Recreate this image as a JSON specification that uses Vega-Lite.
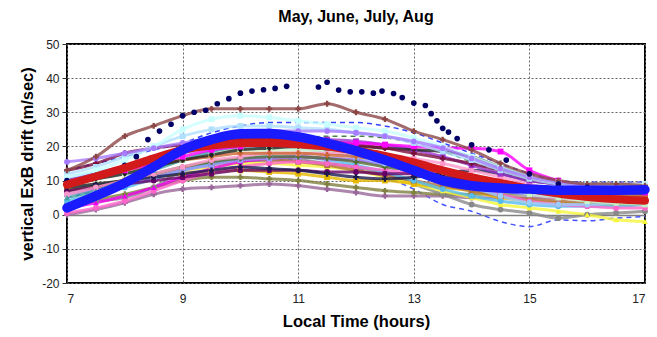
{
"$schema":"https://vega.github.io/schema/vega-lite/v6.json",
"width":578,"height":239,
"autosize":{"type":"none"},
"padding":{"left":67,"top":44,"right":12,"bottom":54},
"background":"white",
"title":{"text":"May, June, July, Aug","font":"Liberation Sans","fontSize":16,"fontWeight":"bold","color":"#000","anchor":"middle","offset":13},
"config":{"view":{"stroke":"#000","strokeWidth":2},
"axis":{"labelFont":"Liberation Sans","titleFont":"Liberation Sans","labelFontSize":12,"labelColor":"#222","titleFontSize":16.5,"titleFontWeight":"bold","titleColor":"#000","gridColor":"#666","gridDash":[2,2],"gridWidth":1,"gridOpacity":1,"domain":false,"labelOverlap":false}},
"encoding":{
"x":{"field":"t","type":"quantitative","scale":{"domain":[7,17],"nice":false,"zero":false},"axis":{"values":[7,9,11,13,15,17],"format":"d","ticks":false,"labelPadding":10,"title":"Local Time (hours)","titlePadding":9}},
"y":{"field":"v","type":"quantitative","scale":{"domain":[-20,50],"nice":false,"zero":false},"axis":{"values":[-20,-10,0,10,20,30,40,50],"tickCount":8,"labelExpr":"datum.value < 0 ? '-' + abs(datum.value) : '' + datum.value","tickSize":5,"tickColor":"#333","labelPadding":3,"labelOverlap":false,"title":"vertical ExB drift (m/sec)","titlePadding":6,
"gridDash":{"condition":{"test":"datum.value === 0","value":[]},"value":[2,2]},
"gridColor":{"condition":{"test":"datum.value === 0","value":"#808080"},"value":"#666"},
"gridWidth":{"condition":{"test":"datum.value === 0","value":1.5},"value":1}}}},
"datasets":{
"fit":[
{"s":"R","t":7,"v":8.8},{"s":"R","t":7.5,"v":11.2},{"s":"R","t":8,"v":13.7},{"s":"R","t":8.5,"v":16.5},{"s":"R","t":9,"v":19},{"s":"R","t":9.5,"v":20.3},{"s":"R","t":10,"v":20.9},{"s":"R","t":10.5,"v":21},{"s":"R","t":11,"v":20.6},{"s":"R","t":11.5,"v":20},{"s":"R","t":12,"v":18.8},{"s":"R","t":12.5,"v":17.2},{"s":"R","t":13,"v":15.3},{"s":"R","t":13.5,"v":13},{"s":"R","t":14,"v":11},{"s":"R","t":14.5,"v":9.3},{"s":"R","t":15,"v":7.6},{"s":"R","t":15.5,"v":6.2},{"s":"R","t":16,"v":5.2},{"s":"R","t":16.5,"v":4.5},{"s":"R","t":17,"v":4.1},
{"s":"B","t":7,"v":2},{"s":"B","t":7.5,"v":5.5},{"s":"B","t":8,"v":9.3},{"s":"B","t":8.5,"v":14},{"s":"B","t":9,"v":19},{"s":"B","t":9.5,"v":22},{"s":"B","t":10,"v":23.7},{"s":"B","t":10.5,"v":23.8},{"s":"B","t":11,"v":22.8},{"s":"B","t":11.5,"v":21},{"s":"B","t":12,"v":18.7},{"s":"B","t":12.5,"v":16},{"s":"B","t":13,"v":13},{"s":"B","t":13.5,"v":10},{"s":"B","t":14,"v":8.5},{"s":"B","t":14.5,"v":7.8},{"s":"B","t":15,"v":7.5},{"s":"B","t":15.5,"v":7.2},{"s":"B","t":16,"v":7.2},{"s":"B","t":16.5,"v":7.2},{"s":"B","t":17,"v":7.3}
],
"dash":[
{"s":"e","t":7,"v":13},{"s":"e","t":7.5,"v":15},{"s":"e","t":8,"v":17},{"s":"e","t":8.5,"v":19},{"s":"e","t":9,"v":21},{"s":"e","t":9.5,"v":24},{"s":"e","t":10,"v":26},{"s":"e","t":10.5,"v":27},{"s":"e","t":11,"v":27},{"s":"e","t":11.5,"v":27},{"s":"e","t":12,"v":27},{"s":"e","t":12.5,"v":26},{"s":"e","t":13,"v":24},{"s":"e","t":13.5,"v":21},{"s":"e","t":14,"v":18},{"s":"e","t":14.5,"v":15},{"s":"e","t":15,"v":12},{"s":"e","t":15.5,"v":10},{"s":"e","t":16,"v":9.5},{"s":"e","t":16.5,"v":9.5},{"s":"e","t":17,"v":9.5},
{"s":"h","t":7,"v":10},{"s":"h","t":7.5,"v":12},{"s":"h","t":8,"v":14},{"s":"h","t":8.5,"v":16},{"s":"h","t":9,"v":18},{"s":"h","t":9.5,"v":20},{"s":"h","t":10,"v":21},{"s":"h","t":10.5,"v":22},{"s":"h","t":11,"v":22.5},{"s":"h","t":11.5,"v":23},{"s":"h","t":12,"v":23},{"s":"h","t":12.5,"v":22.5},{"s":"h","t":13,"v":21},{"s":"h","t":13.5,"v":18.5},{"s":"h","t":14,"v":15.5},{"s":"h","t":14.5,"v":12.5},{"s":"h","t":15,"v":10},{"s":"h","t":15.5,"v":9},{"s":"h","t":16,"v":8.5},{"s":"h","t":16.5,"v":8.5},{"s":"h","t":17,"v":8.5},
{"s":"q","t":7,"v":5},{"s":"q","t":7.5,"v":7},{"s":"q","t":8,"v":9},{"s":"q","t":8.5,"v":11},{"s":"q","t":9,"v":13},{"s":"q","t":9.5,"v":15},{"s":"q","t":10,"v":16},{"s":"q","t":10.5,"v":16.5},{"s":"q","t":11,"v":16},{"s":"q","t":11.5,"v":15},{"s":"q","t":12,"v":13.5},{"s":"q","t":12.5,"v":11},{"s":"q","t":13,"v":7.5},{"s":"q","t":13.5,"v":3},{"s":"q","t":14,"v":1},{"s":"q","t":14.5,"v":-2},{"s":"q","t":15,"v":-3.5},{"s":"q","t":15.5,"v":-1.5},{"s":"q","t":16,"v":-1.8},{"s":"q","t":16.5,"v":-1},{"s":"q","t":17,"v":-0.5}
],
"navy":[
{"t":7,"v":10},{"t":7.5,"v":11.5},{"t":8,"v":14.5},{"t":8.2,"v":17},{"t":8.4,"v":22},{"t":8.6,"v":24.5},{"t":8.8,"v":26.5},{"t":9,"v":29},{"t":9.2,"v":30},{"t":9.4,"v":30.6},{"t":9.6,"v":32.5},{"t":9.8,"v":34},{"t":10,"v":35.6},{"t":10.2,"v":36.2},{"t":10.4,"v":36.6},{"t":10.6,"v":37},{"t":10.8,"v":37.6},{"t":11.35,"v":37.4},{"t":11.5,"v":38.8},{"t":11.7,"v":36.5},{"t":11.9,"v":36},{"t":12.1,"v":36},{"t":12.3,"v":35.6},{"t":12.45,"v":36.2},{"t":12.65,"v":35.5},{"t":12.8,"v":34.3},{"t":13,"v":32.7},{"t":13.2,"v":32},{"t":13.3,"v":29.6},{"t":13.4,"v":27.5},{"t":13.5,"v":25.3},{"t":13.6,"v":24.2},{"t":13.75,"v":22.3},{"t":14,"v":20.5},{"t":14.3,"v":19},{"t":14.6,"v":16},{"t":15,"v":12},{"t":15.5,"v":9},{"t":16,"v":8},{"t":16.5,"v":7.5},{"t":17,"v":7.5}
],
"pts":[
{"s":"r","t":7,"v":0},{"s":"r","t":7.5,"v":1.5},{"s":"r","t":8,"v":3.5},{"s":"r","t":8.5,"v":6},{"s":"r","t":9,"v":7.5},{"s":"r","t":9.5,"v":8},{"s":"r","t":10,"v":8.5},{"s":"r","t":10.5,"v":9},{"s":"r","t":11,"v":8.5},{"s":"r","t":11.5,"v":7.5},{"s":"r","t":12,"v":6.5},{"s":"r","t":12.5,"v":5.5},{"s":"r","t":13,"v":5.5},{"s":"r","t":13.5,"v":5.5},{"s":"r","t":14,"v":5},{"s":"r","t":14.5,"v":5},{"s":"r","t":15,"v":5},{"s":"r","t":15.5,"v":5},{"s":"r","t":16,"v":5},{"s":"r","t":16.5,"v":5},{"s":"r","t":17,"v":5},
{"s":"s","t":7,"v":3},{"s":"s","t":7.5,"v":4.5},{"s":"s","t":8,"v":6},{"s":"s","t":8.5,"v":8},{"s":"s","t":9,"v":10},{"s":"s","t":9.5,"v":11},{"s":"s","t":10,"v":11},{"s":"s","t":10.5,"v":10.5},{"s":"s","t":11,"v":10},{"s":"s","t":11.5,"v":9},{"s":"s","t":12,"v":8},{"s":"s","t":12.5,"v":7},{"s":"s","t":13,"v":6.5},{"s":"s","t":13.5,"v":6},{"s":"s","t":14,"v":6},{"s":"s","t":14.5,"v":6},{"s":"s","t":15,"v":6},{"s":"s","t":15.5,"v":6},{"s":"s","t":16,"v":6},{"s":"s","t":16.5,"v":6},{"s":"s","t":17,"v":6},
{"s":"p","t":7,"v":3},{"s":"p","t":7.5,"v":4},{"s":"p","t":8,"v":5},{"s":"p","t":8.5,"v":8},{"s":"p","t":9,"v":13},{"s":"p","t":9.5,"v":14.5},{"s":"p","t":10,"v":15.5},{"s":"p","t":10.5,"v":16},{"s":"p","t":11,"v":16},{"s":"p","t":11.5,"v":15},{"s":"p","t":12,"v":14},{"s":"p","t":12.5,"v":12},{"s":"p","t":13,"v":9},{"s":"p","t":13.5,"v":6},{"s":"p","t":14,"v":3},{"s":"p","t":14.5,"v":1.5},{"s":"p","t":15,"v":0.5},{"s":"p","t":15.5,"v":-1},{"s":"p","t":16,"v":0},{"s":"p","t":16.5,"v":0.5},{"s":"p","t":17,"v":1},
{"s":"k","t":7,"v":8},{"s":"k","t":7.5,"v":9},{"s":"k","t":8,"v":10},{"s":"k","t":8.5,"v":11.5},{"s":"k","t":9,"v":13},{"s":"k","t":9.5,"v":14},{"s":"k","t":10,"v":15},{"s":"k","t":10.5,"v":15},{"s":"k","t":11,"v":14.5},{"s":"k","t":11.5,"v":14},{"s":"k","t":12,"v":13},{"s":"k","t":12.5,"v":11},{"s":"k","t":13,"v":9},{"s":"k","t":13.5,"v":7},{"s":"k","t":14,"v":5},{"s":"k","t":14.5,"v":3},{"s":"k","t":15,"v":2},{"s":"k","t":15.5,"v":1},{"s":"k","t":16,"v":0},{"s":"k","t":16.5,"v":-1.5},{"s":"k","t":17,"v":-2},
{"s":"l","t":7,"v":7},{"s":"l","t":7.5,"v":8.5},{"s":"l","t":8,"v":10},{"s":"l","t":8.5,"v":11},{"s":"l","t":9,"v":12},{"s":"l","t":9.5,"v":12.5},{"s":"l","t":10,"v":13},{"s":"l","t":10.5,"v":12.5},{"s":"l","t":11,"v":12},{"s":"l","t":11.5,"v":11},{"s":"l","t":12,"v":10},{"s":"l","t":12.5,"v":10},{"s":"l","t":13,"v":9},{"s":"l","t":13.5,"v":8},{"s":"l","t":14,"v":7},{"s":"l","t":14.5,"v":5},{"s":"l","t":15,"v":4},{"s":"l","t":15.5,"v":3.5},{"s":"l","t":16,"v":3},{"s":"l","t":16.5,"v":3},{"s":"l","t":17,"v":3},
{"s":"br","t":7,"v":6},{"s":"br","t":7.5,"v":7.5},{"s":"br","t":8,"v":9.5},{"s":"br","t":8.5,"v":11.5},{"s":"br","t":9,"v":13.5},{"s":"br","t":9.5,"v":15},{"s":"br","t":10,"v":16},{"s":"br","t":10.5,"v":16},{"s":"br","t":11,"v":15.5},{"s":"br","t":11.5,"v":14.5},{"s":"br","t":12,"v":13},{"s":"br","t":12.5,"v":11.5},{"s":"br","t":13,"v":10},{"s":"br","t":13.5,"v":8.5},{"s":"br","t":14,"v":7},{"s":"br","t":14.5,"v":5.5},{"s":"br","t":15,"v":4.5},{"s":"br","t":15.5,"v":4},{"s":"br","t":16,"v":3.5},{"s":"br","t":16.5,"v":3.5},{"s":"br","t":17,"v":3.5},
{"s":"y","t":7,"v":4},{"s":"y","t":7.5,"v":6},{"s":"y","t":8,"v":8},{"s":"y","t":8.5,"v":10.5},{"s":"y","t":9,"v":13},{"s":"y","t":9.5,"v":15},{"s":"y","t":10,"v":16.5},{"s":"y","t":10.5,"v":17},{"s":"y","t":11,"v":17},{"s":"y","t":11.5,"v":16},{"s":"y","t":12,"v":14.5},{"s":"y","t":12.5,"v":12.5},{"s":"y","t":13,"v":10},{"s":"y","t":13.5,"v":7.5},{"s":"y","t":14,"v":5.5},{"s":"y","t":14.5,"v":4},{"s":"y","t":15,"v":3},{"s":"y","t":15.5,"v":2.5},{"s":"y","t":16,"v":2.5},{"s":"y","t":16.5,"v":2.5},{"s":"y","t":17,"v":3},
{"s":"m","t":7,"v":0.5},{"s":"m","t":7.5,"v":2},{"s":"m","t":8,"v":4},{"s":"m","t":8.5,"v":7},{"s":"m","t":9,"v":10},{"s":"m","t":9.5,"v":12.5},{"s":"m","t":10,"v":14},{"s":"m","t":10.5,"v":15},{"s":"m","t":11,"v":15.5},{"s":"m","t":11.5,"v":15},{"s":"m","t":12,"v":14},{"s":"m","t":12.5,"v":13},{"s":"m","t":13,"v":12},{"s":"m","t":13.5,"v":10},{"s":"m","t":14,"v":8},{"s":"m","t":14.5,"v":6},{"s":"m","t":15,"v":4},{"s":"m","t":15.5,"v":3},{"s":"m","t":16,"v":2.5},{"s":"m","t":16.5,"v":2},{"s":"m","t":17,"v":2},
{"s":"o","t":7,"v":2},{"s":"o","t":7.5,"v":3.5},{"s":"o","t":8,"v":5.5},{"s":"o","t":8.5,"v":8},{"s":"o","t":9,"v":11},{"s":"o","t":9.5,"v":13.5},{"s":"o","t":10,"v":15.5},{"s":"o","t":10.5,"v":16.5},{"s":"o","t":11,"v":17},{"s":"o","t":11.5,"v":16.5},{"s":"o","t":12,"v":16},{"s":"o","t":12.5,"v":15},{"s":"o","t":13,"v":14},{"s":"o","t":13.5,"v":12},{"s":"o","t":14,"v":10},{"s":"o","t":14.5,"v":8},{"s":"o","t":15,"v":6},{"s":"o","t":15.5,"v":5},{"s":"o","t":16,"v":4.5},{"s":"o","t":16.5,"v":4},{"s":"o","t":17,"v":4},
{"s":"x","t":7,"v":6},{"s":"x","t":7.5,"v":7.5},{"s":"x","t":8,"v":9},{"s":"x","t":8.5,"v":11},{"s":"x","t":9,"v":13},{"s":"x","t":9.5,"v":14.5},{"s":"x","t":10,"v":16},{"s":"x","t":10.5,"v":16.5},{"s":"x","t":11,"v":17},{"s":"x","t":11.5,"v":16.5},{"s":"x","t":12,"v":16},{"s":"x","t":12.5,"v":14.5},{"s":"x","t":13,"v":13},{"s":"x","t":13.5,"v":11},{"s":"x","t":14,"v":9},{"s":"x","t":14.5,"v":7},{"s":"x","t":15,"v":6},{"s":"x","t":15.5,"v":5.5},{"s":"x","t":16,"v":5},{"s":"x","t":16.5,"v":5},{"s":"x","t":17,"v":5},
{"s":"ol","t":7,"v":7},{"s":"ol","t":7.5,"v":8.5},{"s":"ol","t":8,"v":10},{"s":"ol","t":8.5,"v":12},{"s":"ol","t":9,"v":14},{"s":"ol","t":9.5,"v":15.5},{"s":"ol","t":10,"v":16.5},{"s":"ol","t":10.5,"v":17},{"s":"ol","t":11,"v":17},{"s":"ol","t":11.5,"v":16.5},{"s":"ol","t":12,"v":15.5},{"s":"ol","t":12.5,"v":14},{"s":"ol","t":13,"v":13},{"s":"ol","t":13.5,"v":11.5},{"s":"ol","t":14,"v":10},{"s":"ol","t":14.5,"v":8.5},{"s":"ol","t":15,"v":7},{"s":"ol","t":15.5,"v":6},{"s":"ol","t":16,"v":5.5},{"s":"ol","t":16.5,"v":5},{"s":"ol","t":17,"v":5},
{"s":"t","t":7,"v":7},{"s":"t","t":7.5,"v":8},{"s":"t","t":8,"v":9},{"s":"t","t":8.5,"v":10},{"s":"t","t":9,"v":11},{"s":"t","t":9.5,"v":12},{"s":"t","t":10,"v":13},{"s":"t","t":10.5,"v":13},{"s":"t","t":11,"v":13},{"s":"t","t":11.5,"v":12.5},{"s":"t","t":12,"v":12.5},{"s":"t","t":12.5,"v":12},{"s":"t","t":13,"v":12},{"s":"t","t":13.5,"v":11},{"s":"t","t":14,"v":10},{"s":"t","t":14.5,"v":9},{"s":"t","t":15,"v":8},{"s":"t","t":15.5,"v":7.5},{"s":"t","t":16,"v":7},{"s":"t","t":16.5,"v":6.5},{"s":"t","t":17,"v":6},
{"s":"u","t":7,"v":8},{"s":"u","t":7.5,"v":9},{"s":"u","t":8,"v":10},{"s":"u","t":8.5,"v":11},{"s":"u","t":9,"v":12},{"s":"u","t":9.5,"v":13},{"s":"u","t":10,"v":14},{"s":"u","t":10.5,"v":13.5},{"s":"u","t":11,"v":13},{"s":"u","t":11.5,"v":12},{"s":"u","t":12,"v":11},{"s":"u","t":12.5,"v":10.5},{"s":"u","t":13,"v":11},{"s":"u","t":13.5,"v":12},{"s":"u","t":14,"v":13},{"s":"u","t":14.5,"v":12},{"s":"u","t":15,"v":10},{"s":"u","t":15.5,"v":9},{"s":"u","t":16,"v":8},{"s":"u","t":16.5,"v":7.5},{"s":"u","t":17,"v":7},
{"s":"j","t":7,"v":11},{"s":"j","t":7.5,"v":12.5},{"s":"j","t":8,"v":14},{"s":"j","t":8.5,"v":16},{"s":"j","t":9,"v":18},{"s":"j","t":9.5,"v":19.5},{"s":"j","t":10,"v":20},{"s":"j","t":10.5,"v":20},{"s":"j","t":11,"v":19.5},{"s":"j","t":11.5,"v":18.5},{"s":"j","t":12,"v":17},{"s":"j","t":12.5,"v":15},{"s":"j","t":13,"v":13},{"s":"j","t":13.5,"v":10.5},{"s":"j","t":14,"v":8},{"s":"j","t":14.5,"v":5.5},{"s":"j","t":15,"v":3.5},{"s":"j","t":15.5,"v":3},{"s":"j","t":16,"v":3},{"s":"j","t":16.5,"v":3.5},{"s":"j","t":17,"v":4},
{"s":"w","t":7,"v":9},{"s":"w","t":7.5,"v":10.5},{"s":"w","t":8,"v":12},{"s":"w","t":8.5,"v":14},{"s":"w","t":9,"v":16},{"s":"w","t":9.5,"v":17.5},{"s":"w","t":10,"v":19},{"s":"w","t":10.5,"v":19},{"s":"w","t":11,"v":19},{"s":"w","t":11.5,"v":18.5},{"s":"w","t":12,"v":18},{"s":"w","t":12.5,"v":16.5},{"s":"w","t":13,"v":15},{"s":"w","t":13.5,"v":13},{"s":"w","t":14,"v":11},{"s":"w","t":14.5,"v":8.5},{"s":"w","t":15,"v":6},{"s":"w","t":15.5,"v":5},{"s":"w","t":16,"v":4},{"s":"w","t":16.5,"v":3.5},{"s":"w","t":17,"v":3},
{"s":"n","t":7,"v":6},{"s":"n","t":7.5,"v":8},{"s":"n","t":8,"v":10},{"s":"n","t":8.5,"v":12},{"s":"n","t":9,"v":14},{"s":"n","t":9.5,"v":16},{"s":"n","t":10,"v":17},{"s":"n","t":10.5,"v":18},{"s":"n","t":11,"v":18},{"s":"n","t":11.5,"v":18},{"s":"n","t":12,"v":18},{"s":"n","t":12.5,"v":17.5},{"s":"n","t":13,"v":16.5},{"s":"n","t":13.5,"v":15},{"s":"n","t":14,"v":13},{"s":"n","t":14.5,"v":11},{"s":"n","t":15,"v":9},{"s":"n","t":15.5,"v":7},{"s":"n","t":16,"v":6},{"s":"n","t":16.5,"v":5},{"s":"n","t":17,"v":4.5},
{"s":"i","t":7,"v":5},{"s":"i","t":7.5,"v":7},{"s":"i","t":8,"v":10},{"s":"i","t":8.5,"v":13},{"s":"i","t":9,"v":16},{"s":"i","t":9.5,"v":18.5},{"s":"i","t":10,"v":20},{"s":"i","t":10.5,"v":20.5},{"s":"i","t":11,"v":20.5},{"s":"i","t":11.5,"v":19.5},{"s":"i","t":12,"v":18},{"s":"i","t":12.5,"v":16.5},{"s":"i","t":13,"v":15},{"s":"i","t":13.5,"v":13},{"s":"i","t":14,"v":11},{"s":"i","t":14.5,"v":9},{"s":"i","t":15,"v":7.5},{"s":"i","t":15.5,"v":6.5},{"s":"i","t":16,"v":6},{"s":"i","t":16.5,"v":5.5},{"s":"i","t":17,"v":5},
{"s":"z","t":7,"v":10},{"s":"z","t":7.5,"v":11.5},{"s":"z","t":8,"v":13},{"s":"z","t":8.5,"v":14.5},{"s":"z","t":9,"v":16},{"s":"z","t":9.5,"v":17},{"s":"z","t":10,"v":18},{"s":"z","t":10.5,"v":18},{"s":"z","t":11,"v":18},{"s":"z","t":11.5,"v":17.5},{"s":"z","t":12,"v":17},{"s":"z","t":12.5,"v":16},{"s":"z","t":13,"v":14.5},{"s":"z","t":13.5,"v":12.5},{"s":"z","t":14,"v":10.5},{"s":"z","t":14.5,"v":9},{"s":"z","t":15,"v":8},{"s":"z","t":15.5,"v":7},{"s":"z","t":16,"v":6.5},{"s":"z","t":16.5,"v":6},{"s":"z","t":17,"v":5.5},
{"s":"pu","t":7,"v":10},{"s":"pu","t":7.5,"v":12},{"s":"pu","t":8,"v":14},{"s":"pu","t":8.5,"v":16.5},{"s":"pu","t":9,"v":19},{"s":"pu","t":9.5,"v":21},{"s":"pu","t":10,"v":22},{"s":"pu","t":10.5,"v":22.5},{"s":"pu","t":11,"v":22.5},{"s":"pu","t":11.5,"v":22},{"s":"pu","t":12,"v":21.5},{"s":"pu","t":12.5,"v":20.5},{"s":"pu","t":13,"v":19},{"s":"pu","t":13.5,"v":17},{"s":"pu","t":14,"v":14.5},{"s":"pu","t":14.5,"v":12},{"s":"pu","t":15,"v":10},{"s":"pu","t":15.5,"v":9},{"s":"pu","t":16,"v":8.5},{"s":"pu","t":16.5,"v":8},{"s":"pu","t":17,"v":8},
{"s":"v","t":7,"v":9},{"s":"v","t":7.5,"v":10.5},{"s":"v","t":8,"v":12},{"s":"v","t":8.5,"v":14},{"s":"v","t":9,"v":16},{"s":"v","t":9.5,"v":17.5},{"s":"v","t":10,"v":19},{"s":"v","t":10.5,"v":19.5},{"s":"v","t":11,"v":20},{"s":"v","t":11.5,"v":20},{"s":"v","t":12,"v":20},{"s":"v","t":12.5,"v":19.5},{"s":"v","t":13,"v":19},{"s":"v","t":13.5,"v":18.5},{"s":"v","t":14,"v":17},{"s":"v","t":14.5,"v":14},{"s":"v","t":15,"v":11},{"s":"v","t":15.5,"v":9.5},{"s":"v","t":16,"v":8},{"s":"v","t":16.5,"v":7.5},{"s":"v","t":17,"v":7},
{"s":"g","t":7,"v":13},{"s":"g","t":7.5,"v":15},{"s":"g","t":8,"v":18},{"s":"g","t":8.5,"v":19.5},{"s":"g","t":9,"v":20.5},{"s":"g","t":9.5,"v":21.5},{"s":"g","t":10,"v":22},{"s":"g","t":10.5,"v":22},{"s":"g","t":11,"v":22},{"s":"g","t":11.5,"v":21.5},{"s":"g","t":12,"v":20.5},{"s":"g","t":12.5,"v":19.5},{"s":"g","t":13,"v":18},{"s":"g","t":13.5,"v":16.5},{"s":"g","t":14,"v":15},{"s":"g","t":14.5,"v":13},{"s":"g","t":15,"v":10.5},{"s":"g","t":15.5,"v":9.5},{"s":"g","t":16,"v":9},{"s":"g","t":16.5,"v":9},{"s":"g","t":17,"v":9},
{"s":"f","t":7,"v":9},{"s":"f","t":7.5,"v":11},{"s":"f","t":8,"v":13},{"s":"f","t":8.5,"v":15},{"s":"f","t":9,"v":17},{"s":"f","t":9.5,"v":19},{"s":"f","t":10,"v":20},{"s":"f","t":10.5,"v":21},{"s":"f","t":11,"v":21},{"s":"f","t":11.5,"v":21},{"s":"f","t":12,"v":21},{"s":"f","t":12.5,"v":20.5},{"s":"f","t":13,"v":20},{"s":"f","t":13.5,"v":19.5},{"s":"f","t":14,"v":19.5},{"s":"f","t":14.5,"v":18.5},{"s":"f","t":15,"v":13},{"s":"f","t":15.5,"v":10},{"s":"f","t":16,"v":8},{"s":"f","t":16.5,"v":7},{"s":"f","t":17,"v":6.5},
{"s":"b2","t":7,"v":12},{"s":"b2","t":7.5,"v":14},{"s":"b2","t":8,"v":17},{"s":"b2","t":8.5,"v":20},{"s":"b2","t":9,"v":23},{"s":"b2","t":9.5,"v":25},{"s":"b2","t":10,"v":26},{"s":"b2","t":10.5,"v":26},{"s":"b2","t":11,"v":25.5},{"s":"b2","t":11.5,"v":25},{"s":"b2","t":12,"v":24},{"s":"b2","t":12.5,"v":23},{"s":"b2","t":13,"v":21},{"s":"b2","t":13.5,"v":18.5},{"s":"b2","t":14,"v":16},{"s":"b2","t":14.5,"v":13},{"s":"b2","t":15,"v":10.5},{"s":"b2","t":15.5,"v":9},{"s":"b2","t":16,"v":8.5},{"s":"b2","t":16.5,"v":8.5},{"s":"b2","t":17,"v":8.5},
{"s":"d","t":7,"v":11},{"s":"d","t":7.5,"v":13},{"s":"d","t":8,"v":16},{"s":"d","t":8.5,"v":20},{"s":"d","t":9,"v":25},{"s":"d","t":9.5,"v":28},{"s":"d","t":10,"v":29},{"s":"d","t":10.5,"v":28.5},{"s":"d","t":11,"v":27.5},{"s":"d","t":11.5,"v":26.5},{"s":"d","t":12,"v":25.5},{"s":"d","t":12.5,"v":24.5},{"s":"d","t":13,"v":22.5},{"s":"d","t":13.5,"v":20},{"s":"d","t":14,"v":17},{"s":"d","t":14.5,"v":14},{"s":"d","t":15,"v":11},{"s":"d","t":15.5,"v":9.5},{"s":"d","t":16,"v":9},{"s":"d","t":16.5,"v":9},{"s":"d","t":17,"v":9},
{"s":"c","t":7,"v":15.5},{"s":"c","t":7.5,"v":16.5},{"s":"c","t":8,"v":18},{"s":"c","t":8.5,"v":19.5},{"s":"c","t":9,"v":21},{"s":"c","t":9.5,"v":22.5},{"s":"c","t":10,"v":24},{"s":"c","t":10.5,"v":24.5},{"s":"c","t":11,"v":24.5},{"s":"c","t":11.5,"v":24.5},{"s":"c","t":12,"v":24},{"s":"c","t":12.5,"v":23},{"s":"c","t":13,"v":21.5},{"s":"c","t":13.5,"v":19.5},{"s":"c","t":14,"v":16.5},{"s":"c","t":14.5,"v":13.5},{"s":"c","t":15,"v":11},{"s":"c","t":15.5,"v":9.5},{"s":"c","t":16,"v":8.5},{"s":"c","t":16.5,"v":8},{"s":"c","t":17,"v":7.5},
{"s":"a","t":7,"v":13},{"s":"a","t":7.5,"v":17},{"s":"a","t":8,"v":23},{"s":"a","t":8.5,"v":26},{"s":"a","t":9,"v":29},{"s":"a","t":9.5,"v":31},{"s":"a","t":10,"v":31},{"s":"a","t":10.5,"v":31},{"s":"a","t":11,"v":31},{"s":"a","t":11.5,"v":32.5},{"s":"a","t":12,"v":30},{"s":"a","t":12.5,"v":28},{"s":"a","t":13,"v":24.5},{"s":"a","t":13.5,"v":22},{"s":"a","t":14,"v":19},{"s":"a","t":14.5,"v":15},{"s":"a","t":15,"v":12},{"s":"a","t":15.5,"v":10},{"s":"a","t":16,"v":9},{"s":"a","t":16.5,"v":9},{"s":"a","t":17,"v":8.5}
]},
"layer":[
{"data":{"name":"dash"},"mark":{"type":"line","strokeWidth":1.5,"strokeDash":[5,4],"interpolate":"monotone"},
"encoding":{"detail":{"field":"s"},
"color":{"field":"s","type":"nominal","legend":null,"scale":{"domain":["e","h","q"],"range":["#3344ff","#4d804d","#4455ff"]}}}},
{"data":{"name":"pts"},"mark":{"type":"line","strokeWidth":3,"opacity":0.8,"interpolate":"monotone"},
"encoding":{"detail":{"field":"s"},
"color":{"field":"s","type":"nominal","legend":null,"scale":{"domain":["r","s","p","k","l","br","y","m","o","x","ol","t","u","j","w","n","i","z","pu","v","g","f","b2","d","c","a"],"range":["#996699","#808040","#888888","#f5f53a","#e6b800","#b07040","#55bbee","#ff66cc","#ee00ee","#9999ff","#556b2f","#660066","#1a1a4d","#99ccff","#c8f5c8","#ff99cc","#40a0a0","#cc6633","#9933cc","#222222","#7a0f3d","#ff00ff","#b0e0ff","#c8ffff","#a77bff","#8c4646"]}}}},
{"data":{"name":"pts"},"mark":{"type":"point","filled":true,"size":34,"opacity":1},
"encoding":{
"color":{"field":"s","type":"nominal","legend":null,"scale":{"domain":["r","s","p","k","l","br","y","m","o","x","ol","t","u","j","w","n","i","z","pu","v","g","f","b2","d","c","a"],"range":["#996699","#808040","#888888","#f5f53a","#e6b800","#b07040","#55bbee","#ff66cc","#ee00ee","#9999ff","#556b2f","#660066","#1a1a4d","#99ccff","#c8f5c8","#ff99cc","#40a0a0","#cc6633","#9933cc","#222222","#7a0f3d","#ff00ff","#b0e0ff","#c8ffff","#a77bff","#8c4646"]}},
"shape":{"field":"s","type":"nominal","legend":null,"scale":{"domain":["r","s","p","k","l","br","y","m","o","x","ol","t","u","j","w","n","i","z","pu","v","g","f","b2","d","c","a"],"range":["cross","cross","circle","triangle-up","square","square","circle","circle","triangle-up","square","cross","circle","cross","circle","square","circle","triangle-up","cross","square","diamond","cross","square","square","square","circle","cross"]}}}},
{"data":{"name":"navy"},"mark":{"type":"circle","color":"#000066","size":32,"opacity":1},"encoding":{}},
{"data":{"name":"fit"},"mark":{"type":"line","strokeCap":"round","interpolate":"monotone"},
"encoding":{"detail":{"field":"s"},
"strokeWidth":{"field":"s","type":"nominal","legend":null,"scale":{"domain":["R","B"],"range":[8,9.5]}},
"color":{"field":"s","type":"nominal","legend":null,"scale":{"domain":["R","B"],"range":["#d21a1a","#1a1aff"]}}}}
],
"resolve":{"scale":{"color":"independent","shape":"independent"}}
}
